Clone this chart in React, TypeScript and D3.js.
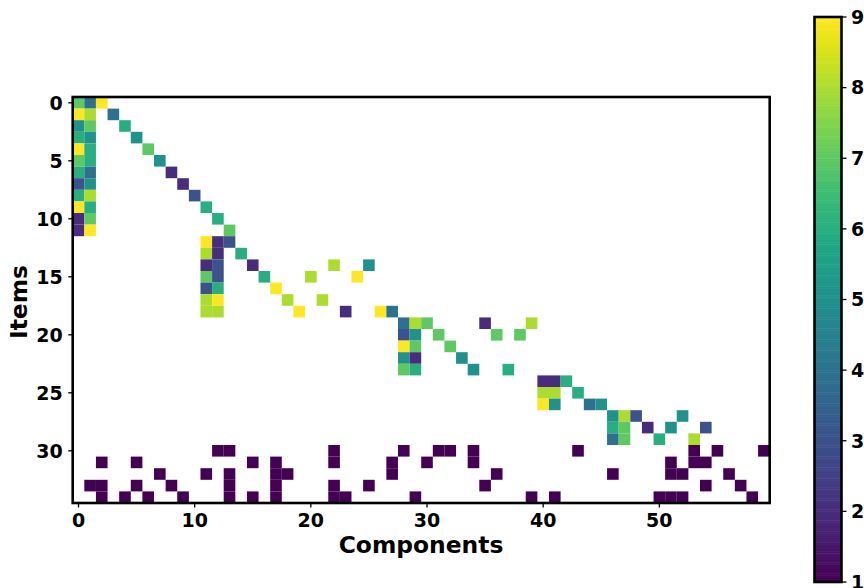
import React from "react";
import * as d3 from "d3";

type Entry = [number, number, number]; // item, component, value

// rating-ish values, [item, component, value]
const firstBlock: Entry[] = [
  [0, 0, 7], [0, 1, 4], [0, 2, 9],
  [1, 0, 9], [1, 1, 8], [1, 3, 4],
  [2, 0, 5], [2, 1, 7], [2, 4, 6],
  [3, 0, 6], [3, 1, 5], [3, 5, 5],
  [4, 0, 9], [4, 1, 6], [4, 6, 7],
  [5, 0, 7], [5, 1, 6], [5, 7, 5],
  [6, 0, 6], [6, 1, 4], [6, 8, 2],
  [7, 0, 3], [7, 1, 5], [7, 9, 2],
  [8, 0, 6], [8, 1, 8], [8, 10, 3],
  [9, 0, 9], [9, 1, 6], [9, 11, 6],
  [10, 0, 2], [10, 1, 7], [10, 12, 6],
  [11, 0, 2], [11, 1, 9], [11, 13, 7],
];

const secondBlock: Entry[] = [
  [12, 11, 9], [12, 12, 2], [12, 13, 3],
  [13, 11, 8], [13, 12, 2], [13, 14, 6],
  [14, 11, 2], [14, 12, 3], [14, 15, 2], [14, 22, 8], [14, 25, 5],
  [15, 11, 7], [15, 12, 3], [15, 16, 6], [15, 20, 8], [15, 24, 9],
  [16, 11, 3], [16, 12, 6], [16, 17, 9],
  [17, 11, 8], [17, 12, 9], [17, 18, 8], [17, 21, 8],
  [18, 11, 8], [18, 12, 8], [18, 19, 9], [18, 23, 2], [18, 26, 9], [18, 27, 4],
];

const thirdBlock: Entry[] = [
  [19, 28, 4], [19, 29, 8], [19, 30, 7], [19, 35, 2], [19, 39, 8],
  [20, 28, 3], [20, 29, 5], [20, 31, 7], [20, 36, 7], [20, 38, 7],
  [21, 28, 9], [21, 29, 7], [21, 32, 7],
  [22, 28, 5], [22, 29, 2], [22, 33, 5],
  [23, 28, 7], [23, 29, 6], [23, 34, 5], [23, 37, 6],
];

const fourthBlock: Entry[] = [
  [24, 40, 2], [24, 41, 2], [24, 42, 6],
  [25, 40, 8], [25, 41, 8], [25, 43, 6],
  [26, 40, 9], [26, 41, 5], [26, 44, 4], [26, 45, 5],
  [27, 46, 5], [27, 47, 8], [27, 48, 3], [27, 52, 5],
  [28, 46, 6], [28, 47, 7], [28, 49, 2], [28, 51, 5], [28, 54, 3],
  [29, 46, 4], [29, 47, 7], [29, 50, 6], [29, 53, 8],
];

// bottom rows only hold ones: item -> components
const ones: [number, number[]][] = [
  [30, [12, 13, 22, 28, 31, 32, 34, 43, 53, 55, 59]],
  [31, [2, 5, 15, 17, 22, 27, 30, 34, 51, 53, 54]],
  [32, [7, 11, 13, 17, 18, 27, 36, 46, 51, 52, 56]],
  [33, [1, 2, 5, 8, 13, 17, 22, 25, 35, 54, 57]],
  [34, [2, 4, 6, 9, 13, 15, 17, 22, 23, 29, 39, 41, 50, 51, 52, 58]],
];

const xTicks = [0, 10, 20, 30, 40, 50];
const yTicks = [0, 5, 10, 15, 20, 25, 30];
const barTicks = [1, 2, 3, 4, 5, 6, 7, 8, 9];

const FONT = "'DejaVu Sans', sans-serif";
const width = 864;
const height = 588;

const x = d3.scaleLinear().domain([-0.5, 59.5]).range([72.7, 769.7]);
const y = d3.scaleLinear().domain([-0.5, 34.5]).range([97, 503]);
const color = d3.scaleSequential(d3.interpolateViridis).domain([1, 9]);
const barY = d3.scaleLinear().domain([1, 9]).range([582, 17]);

const entries: Entry[] = [
  ...firstBlock,
  ...secondBlock,
  ...thirdBlock,
  ...fourthBlock,
  ...ones.flatMap(([item, comps]) => comps.map((c): Entry => [item, c, 1])),
];

const barSteps = d3.range(1, 9, 8 / 256);

export default function App() {
  const cw = x(1) - x(0);
  const ch = y(1) - y(0);
  return (
    <svg
      width={width}
      height={height}
      style={{ position: "absolute", left: 0, top: 0, background: "white" }}
      fontFamily={FONT}
      fontWeight="bold"
    >
      {entries.map(([item, comp, v], i) => (
        <rect
          key={i}
          x={x(comp - 0.5)}
          y={y(item - 0.5)}
          width={cw}
          height={ch}
          fill={color(v)}
        />
      ))}
      <rect
        x={72.7}
        y={97}
        width={697}
        height={406}
        fill="none"
        stroke="black"
        strokeWidth={2.6}
      />
      {xTicks.map((t) => (
        <g key={t} transform={`translate(${x(t)},503)`}>
          <line y2={4.5} stroke="black" strokeWidth={1.3} />
          <text y={24} textAnchor="middle" fontSize={19}>
            {t}
          </text>
        </g>
      ))}
      {yTicks.map((t) => (
        <g key={t} transform={`translate(72.7,${y(t)})`}>
          <line x2={-4.5} stroke="black" strokeWidth={1.3} />
          <text x={-10} dy="0.36em" textAnchor="end" fontSize={19}>
            {t}
          </text>
        </g>
      ))}
      <text x={421} y={553} textAnchor="middle" fontSize={23.4}>
        Components
      </text>
      <text
        transform="translate(27,302) rotate(-90)"
        textAnchor="middle"
        fontSize={23.4}
      >
        Items
      </text>
      {barSteps.map((v) => (
        <rect
          key={v}
          x={814.5}
          y={barY(v + 8 / 256)}
          width={27}
          height={barY(v) - barY(v + 8 / 256) + 0.5}
          fill={color(v)}
        />
      ))}
      <rect
        x={814.5}
        y={17}
        width={27}
        height={565}
        fill="none"
        stroke="black"
        strokeWidth={2.6}
      />
      {barTicks.map((t) => (
        <g key={t} transform={`translate(841.5,${barY(t)})`}>
          <line x2={5} stroke="black" strokeWidth={1.3} />
          <text x={9.5} dy="0.36em" fontSize={19}>
            {t}
          </text>
        </g>
      ))}
    </svg>
  );
}
